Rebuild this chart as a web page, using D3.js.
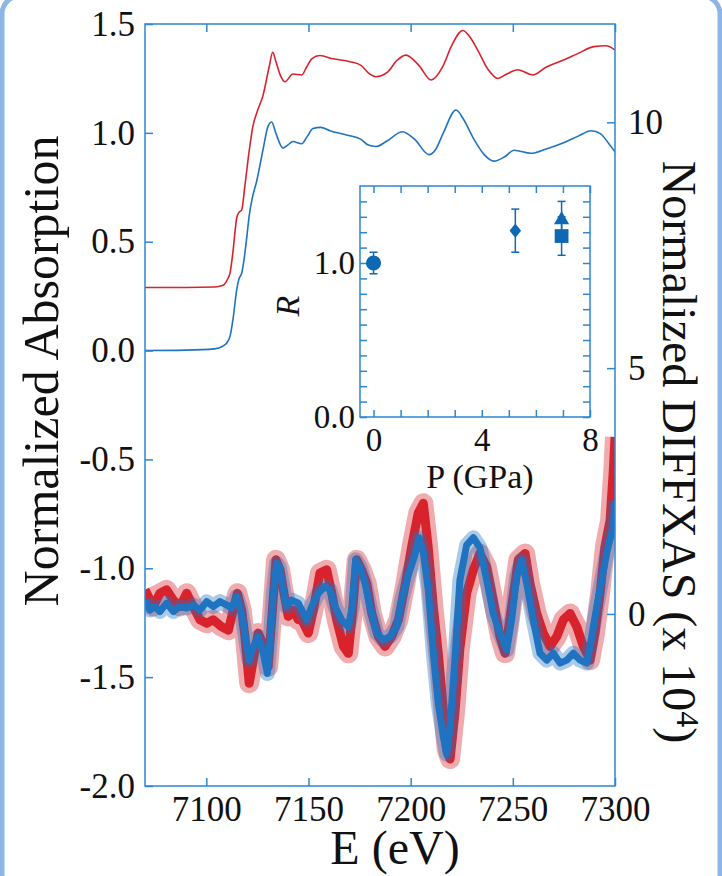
<!DOCTYPE html>
<html>
<head>
<meta charset="utf-8">
<script src="https://cdn.jsdelivr.net/npm/d3@7"></script>
<style>
  html, body { margin: 0; padding: 0; background: #fff; }
  svg { display: block; }
  text { font-family: "Liberation Serif", "Times New Roman", serif; fill: #111; }
</style>
</head>
<body>
<svg id="chart" width="722" height="876"></svg>
<script>
// XANES, normalized absorption (left axis)
const energyBlue = [7070, 7090, 7104, 7108, 7110, 7111.6, 7113, 7114.9, 7116, 7117.3, 7118.5, 7119.8, 7121, 7122.5,
  7124.7, 7127.7, 7130.2, 7132, 7134, 7137.5, 7140, 7142.4, 7146.7, 7149.5, 7152.2, 7156, 7160.5, 7168.7, 7175.7,
  7179, 7183, 7188, 7196, 7202, 7209, 7212, 7216, 7222.2, 7226, 7231, 7236, 7240.8, 7246, 7250.6, 7258.9, 7266,
  7273.6, 7282, 7288.3, 7293, 7297, 7300];
const absBlue = [0.0, 0.002, 0.008, 0.02, 0.035, 0.065, 0.14, 0.28, 0.33, 0.355, 0.42, 0.52, 0.62, 0.70,
  0.78, 0.92, 1.03, 1.05, 1.0, 0.93, 0.945, 0.96, 0.95, 0.985, 1.02, 1.025, 1.01, 0.99, 0.97,
  0.945, 0.937, 0.96, 1.005, 0.97, 0.90, 0.92, 1.0, 1.105, 1.06, 0.97, 0.90, 0.87, 0.89, 0.92, 0.906, 0.925,
  0.95, 0.985, 1.01, 0.995, 0.95, 0.913];

const energyRed = [7070, 7090, 7104, 7108.2, 7110.5, 7111.6, 7113, 7114.9, 7116, 7117.3, 7118.8, 7120.4, 7122.8,
  7125, 7127.7, 7130.7, 7132.5, 7134, 7136, 7138.5, 7142.4, 7146.7, 7149, 7151.6, 7155.6, 7162, 7170.3, 7175.7,
  7180, 7183, 7188.8, 7193, 7197.7, 7204, 7210, 7215.7, 7220, 7225.5, 7229, 7232.8, 7238, 7242.6, 7247, 7252.4,
  7259.7, 7266, 7273.6, 7282, 7289.7, 7295.6, 7300];
const absRed = [0.29, 0.29, 0.292, 0.30, 0.33, 0.356, 0.45, 0.61, 0.635, 0.645, 0.75, 0.875, 1.03,
  1.10, 1.17, 1.30, 1.37, 1.33, 1.27, 1.235, 1.27, 1.266, 1.30, 1.34, 1.355, 1.34, 1.327, 1.31,
  1.27, 1.258, 1.28, 1.33, 1.357, 1.31, 1.243, 1.304, 1.40, 1.47, 1.44, 1.38, 1.29, 1.25, 1.27, 1.29,
  1.266, 1.30, 1.33, 1.365, 1.396, 1.40, 1.38];

// DIFFXAS (right axis, x 10^4)
const diffEnergyRed = [7070, 7074.1, 7077.3, 7080.6, 7083.9, 7087.1, 7090.4, 7093.6, 7096.9, 7100.2, 7103.4,
  7107.5, 7110.8, 7113.2, 7115.2, 7117.3, 7118.9, 7121, 7123, 7125.4, 7128.2, 7130.3, 7132, 7134.1, 7136.1,
  7137.7, 7140.1, 7142.6, 7145, 7146.7, 7149.9, 7152.4, 7155.6, 7158.9, 7161.4, 7163.8, 7167.1, 7169.5, 7171.5,
  7173.6, 7176, 7178.5, 7181, 7184.2, 7187.5, 7190.7, 7194, 7197.2, 7200.5, 7203.7, 7206.2, 7208.6, 7211.1,
  7213.5, 7216, 7217.6, 7219.3, 7221.7, 7224.1, 7227.4, 7230.7, 7233.9, 7237.2, 7240.4, 7243.7, 7246.2, 7249.4,
  7252.7, 7256, 7258.4, 7261.7, 7264.9, 7268.2, 7271.5, 7274.7, 7278, 7281.3, 7284.5, 7287.8, 7290.2, 7292.7,
  7295.1, 7297.6, 7299.2, 7300];
const diffRed = [0.49, 0.15, 0.42, 0.49, 0.28, 0.15, 0.42, 0.15, -0.12, -0.19, -0.12,
  -0.26, -0.33, 0.08, 0.42, 0.08, -0.46, -1.41, -0.94, -0.39, -0.66, -1.07, -0.12, 1.10, 0.90,
  0.49, -0.05, 0.08, -0.12, -0.12, -0.39, 0.08, 0.83, 0.90, 0.42, -0.12, -0.66, -0.80, 0.01,
  1.10, 0.90, 0.62, 0.01, -0.46, -0.66, -0.46, -0.12, 0.56, 1.37, 2.05, 2.25, 1.35, 0.15,
  -0.80, -1.95, -2.75, -2.95, -2.0, -0.7, 0.42, 0.90, 1.23, 0.96, 0.28, -0.46, -0.80, 0.15,
  1.10, 1.23, 0.62, 0.01, -0.39, -0.66, -0.46, -0.12, 0.01, -0.26, -0.66, -0.94, -0.39, 0.42,
  1.37, 1.91, 2.93, 3.6];

const diffEnergyBlue = [7070, 7072.4, 7074.9, 7077.3, 7080.6, 7083.9, 7087.1, 7090.4, 7093.6, 7096.9, 7100.2,
  7103.4, 7106.7, 7110, 7112.4, 7114.9, 7116.5, 7118.1, 7119.8, 7121, 7123, 7125.4, 7127.9, 7129.9, 7131.5,
  7132.8, 7134.4, 7135.7, 7137.4, 7139.3, 7141.8, 7145, 7146.7, 7149.1, 7151.6, 7154.8, 7158.1, 7160.5, 7163,
  7166.2, 7169.5, 7171.5, 7173.1, 7175.2, 7177.7, 7180.1, 7183.4, 7186.6, 7189.9, 7193.2, 7195.6, 7198.9,
  7202.1, 7204.1, 7206.2, 7208.6, 7211.1, 7213.5, 7216, 7217.6, 7219.3, 7221.7, 7224.1, 7227.4, 7230.7,
  7233.9, 7237.2, 7240.4, 7243.7, 7247, 7249.4, 7251.9, 7254.3, 7256.8, 7260, 7263.3, 7266.6, 7269.8, 7273.1,
  7276.4, 7279.6, 7282.9, 7286.2, 7288.6, 7291.1, 7293.5, 7296, 7299.2, 7300];
const diffBlue = [0.285, 0.08, 0.15, 0.05, 0.22, 0.05, 0.15, 0.12, 0.18, 0.08, 0.25,
  0.15, 0.25, 0.18, 0.12, 0.35, 0.15, -0.19, -0.66, -0.94, -0.66, -0.46, -0.80, -1.21, -0.39,
  0.42, 1.03, 0.96, 0.56, 0.15, 0.28, 0.22, 0.08, -0.12, 0.15, 0.42, 0.56, 0.49, 0.15,
  -0.12, -0.26, 0.15, 1.10, 0.96, 0.62, 0.15, -0.39, -0.53, -0.46, -0.26, 0.28, 0.80,
  1.20, 1.55, 1.25, 0.50, -0.80, -1.82, -2.50, -2.85, -2.3, -0.9, 0.69, 1.40, 1.55,
  1.35, 0.69, 0.01, -0.39, -0.73, -0.12, 0.76, 1.10, 0.62, -0.12, -0.80, -0.94, -0.80, -1.00,
  -0.94, -0.80, -0.94, -1.00, -0.46, 0.15, 0.69, 1.25, 1.8, 2.3];

// inset: R vs pressure
const pressure = [0, 5.24, 6.95, 6.95];
const ratio = [1.0, 1.21, 1.28, 1.175];
const ratioErr = [0.07, 0.14, 0.12, 0.125];
const markerShape = ["circle", "diamond", "triangle", "square"];

// ticks
const energyTicks = [7100, 7150, 7200, 7250, 7300];
const absTicks = [1.5, 1.0, 0.5, 0.0, -0.5, -1.0, -1.5, -2.0];
const diffTicks = [0, 5, 10];
const pressureTicks = d3.range(0, 9, 1);
const pressureLabels = [0, 4, 8];
const ratioTicks = d3.range(0, 15).map(i => i / 10);
const ratioLabels = [0, 1];

const serif = '"Liberation Serif", "Times New Roman", serif';
const axisColor = "#2d86d2";
const red = "#d8232c";
const blue = "#1f73c0";
const markerBlue = "#0f68b4";

const svg = d3.select("#chart");

// rounded page frame
svg.append("rect")
  .attr("x", 2).attr("y", -4)
  .attr("width", 718).attr("height", 1000)
  .attr("rx", 18)
  .attr("fill", "#fff")
  .attr("stroke", "#8db5e5")
  .attr("stroke-width", 5);

const mLeft = 145, mRight = 615, mTop = 24, mBottom = 786;

const x = d3.scaleLinear().domain([7070, 7300]).range([mLeft, mRight]);
const yAbs = d3.scaleLinear().domain([-2, 1.5]).range([mBottom, mTop]);
const yDiff = d3.scaleLinear().domain([-3.5, 12]).range([mBottom, mTop]);

svg.append("clipPath").attr("id", "plotclip")
  .append("rect").attr("x", mLeft).attr("y", mTop)
  .attr("width", mRight - mLeft).attr("height", mBottom - mTop);

const plot = svg.append("g").attr("clip-path", "url(#plotclip)");

// XANES curves
const xanesLine = d3.line().curve(d3.curveMonotoneX);
plot.append("path")
  .attr("d", xanesLine(energyRed.map((e, i) => [x(e), yAbs(absRed[i])])))
  .attr("fill", "none").attr("stroke", red).attr("stroke-width", 1.6);
plot.append("path")
  .attr("d", xanesLine(energyBlue.map((e, i) => [x(e), yAbs(absBlue[i])])))
  .attr("fill", "none").attr("stroke", blue).attr("stroke-width", 1.6);

// noisy difference spectra: a soft halo plus a solid core
const diffLine = d3.line();
function drawDiff(energy, values, color, halo, core) {
  const d = diffLine(energy.map((e, i) => [x(e), yDiff(values[i])]));
  plot.append("path").attr("d", d)
    .attr("fill", "none").attr("stroke", color)
    .attr("stroke-width", halo).attr("stroke-opacity", 0.38)
    .attr("stroke-linejoin", "round");
  plot.append("path").attr("d", d)
    .attr("fill", "none").attr("stroke", color)
    .attr("stroke-width", core)
    .attr("stroke-linejoin", "round");
}
drawDiff(diffEnergyRed, diffRed, red, 20, 9);
drawDiff(diffEnergyBlue, diffBlue, blue, 15, 7);

// plot frame
svg.append("rect")
  .attr("x", mLeft).attr("y", mTop)
  .attr("width", mRight - mLeft).attr("height", mBottom - mTop)
  .attr("fill", "none").attr("stroke", axisColor).attr("stroke-width", 1.5);

function styleAxis(g, size) {
  g.attr("font-family", serif).attr("font-size", size);
  g.select(".domain").remove();
  g.selectAll(".tick line").attr("stroke", axisColor).attr("stroke-width", 1.5);
  g.selectAll(".tick text").attr("fill", "#111")
    .style("font-family", serif).style("font-size", size + "px");
}

svg.append("g").attr("transform", `translate(0,${mBottom})`)
  .call(d3.axisBottom(x).tickValues(energyTicks).tickSize(-8).tickPadding(10).tickFormat(d3.format("d")))
  .call(g => styleAxis(g, 35));
svg.append("g").attr("transform", `translate(0,${mTop})`)
  .call(d3.axisTop(x).tickValues(energyTicks).tickSize(-8).tickFormat(""))
  .call(g => styleAxis(g, 35));
svg.append("g").attr("transform", `translate(${mLeft},0)`)
  .call(d3.axisLeft(yAbs).tickValues(absTicks).tickSize(-8).tickPadding(10).tickFormat(d => d.toFixed(1)))
  .call(g => styleAxis(g, 35));
svg.append("g").attr("transform", `translate(${mRight},0)`)
  .call(d3.axisRight(yDiff).tickValues(diffTicks).tickSize(-8).tickPadding(13).tickFormat(d3.format("d")))
  .call(g => styleAxis(g, 35));

// axis titles
svg.append("text")
  .attr("transform", "translate(58,371) rotate(-90)")
  .attr("text-anchor", "middle")
  .style("font-size", "50px")
  .text("Normalized Absorption");

const rTitle = svg.append("text")
  .attr("transform", "translate(663,452) rotate(90)")
  .attr("text-anchor", "middle")
  .style("font-size", "48px");
rTitle.append("tspan").text("Normalized DIFFXAS (x 10");
rTitle.append("tspan").attr("dy", "-0.45em").style("font-size", "32px").text("4");
rTitle.append("tspan").attr("dy", "0.3em").text(")");

svg.append("text")
  .attr("x", 395).attr("y", 864)
  .attr("text-anchor", "middle")
  .style("font-size", "48px")
  .text("E (eV)");

// inset
const iLeft = 360, iRight = 590, iTop = 186, iBottom = 417;
const px = d3.scaleLinear().domain([-0.5, 8]).range([iLeft, iRight]);
const ry = d3.scaleLinear().domain([0, 1.5]).range([iBottom, iTop]);

const inset = svg.append("g");
inset.append("rect")
  .attr("x", iLeft).attr("y", iTop)
  .attr("width", iRight - iLeft).attr("height", iBottom - iTop)
  .attr("fill", "#fff").attr("stroke", axisColor).attr("stroke-width", 1.5);

inset.append("g").attr("transform", `translate(0,${iBottom})`)
  .call(d3.axisBottom(px).tickValues(pressureTicks).tickSize(-7).tickPadding(11)
    .tickFormat(d => pressureLabels.includes(d) ? d : ""))
  .call(g => styleAxis(g, 33));
inset.append("g").attr("transform", `translate(0,${iTop})`)
  .call(d3.axisTop(px).tickValues(pressureTicks).tickSize(-7).tickFormat(""))
  .call(g => styleAxis(g, 33));
inset.append("g").attr("transform", `translate(${iLeft},0)`)
  .call(d3.axisLeft(ry).tickValues(ratioTicks).tickSize(-7).tickPadding(5)
    .tickFormat(d => ratioLabels.includes(d) ? d.toFixed(1) : ""))
  .call(g => styleAxis(g, 33));
inset.append("g").attr("transform", `translate(${iRight},0)`)
  .call(d3.axisRight(ry).tickValues(ratioTicks).tickSize(-7).tickFormat(""))
  .call(g => styleAxis(g, 33));

inset.append("text")
  .attr("x", 480).attr("y", 488)
  .attr("text-anchor", "middle")
  .style("font-size", "34px")
  .text("P (GPa)");
inset.append("text")
  .attr("transform", "translate(299,306) rotate(-90)")
  .attr("text-anchor", "middle")
  .style("font-size", "34px").style("font-style", "italic")
  .text("R");

// error bars
const points = pressure.map((p, i) => ({ p: p, r: ratio[i], e: ratioErr[i], shape: markerShape[i] }));
const bars = inset.append("g").attr("stroke", markerBlue).attr("stroke-width", 1.5);
points.forEach(d => {
  bars.append("line").attr("x1", px(d.p)).attr("x2", px(d.p))
    .attr("y1", ry(d.r - d.e)).attr("y2", ry(d.r + d.e));
  [d.r - d.e, d.r + d.e].forEach(v => {
    bars.append("line").attr("x1", px(d.p) - 4).attr("x2", px(d.p) + 4)
      .attr("y1", ry(v)).attr("y2", ry(v));
  });
});

const diamondWide = {
  draw(ctx, size) {
    const r = Math.sqrt(size) / 2;
    ctx.moveTo(0, -r * 1.15);
    ctx.lineTo(r * 0.95, 0);
    ctx.lineTo(0, r * 1.15);
    ctx.lineTo(-r * 0.95, 0);
    ctx.closePath();
  }
};
const symbolTypes = { circle: d3.symbolCircle, diamond: diamondWide, triangle: d3.symbolTriangle, square: d3.symbolSquare };
const symbolSizes = { circle: 180, diamond: 150, triangle: 100, square: 190 };

inset.selectAll("path.marker")
  .data(points)
  .enter().append("path")
  .attr("class", "marker")
  .attr("transform", d => `translate(${px(d.p)},${ry(d.r)})`)
  .attr("d", d => d3.symbol().type(symbolTypes[d.shape]).size(symbolSizes[d.shape])())
  .attr("fill", markerBlue);
</script>
</body>
</html>
